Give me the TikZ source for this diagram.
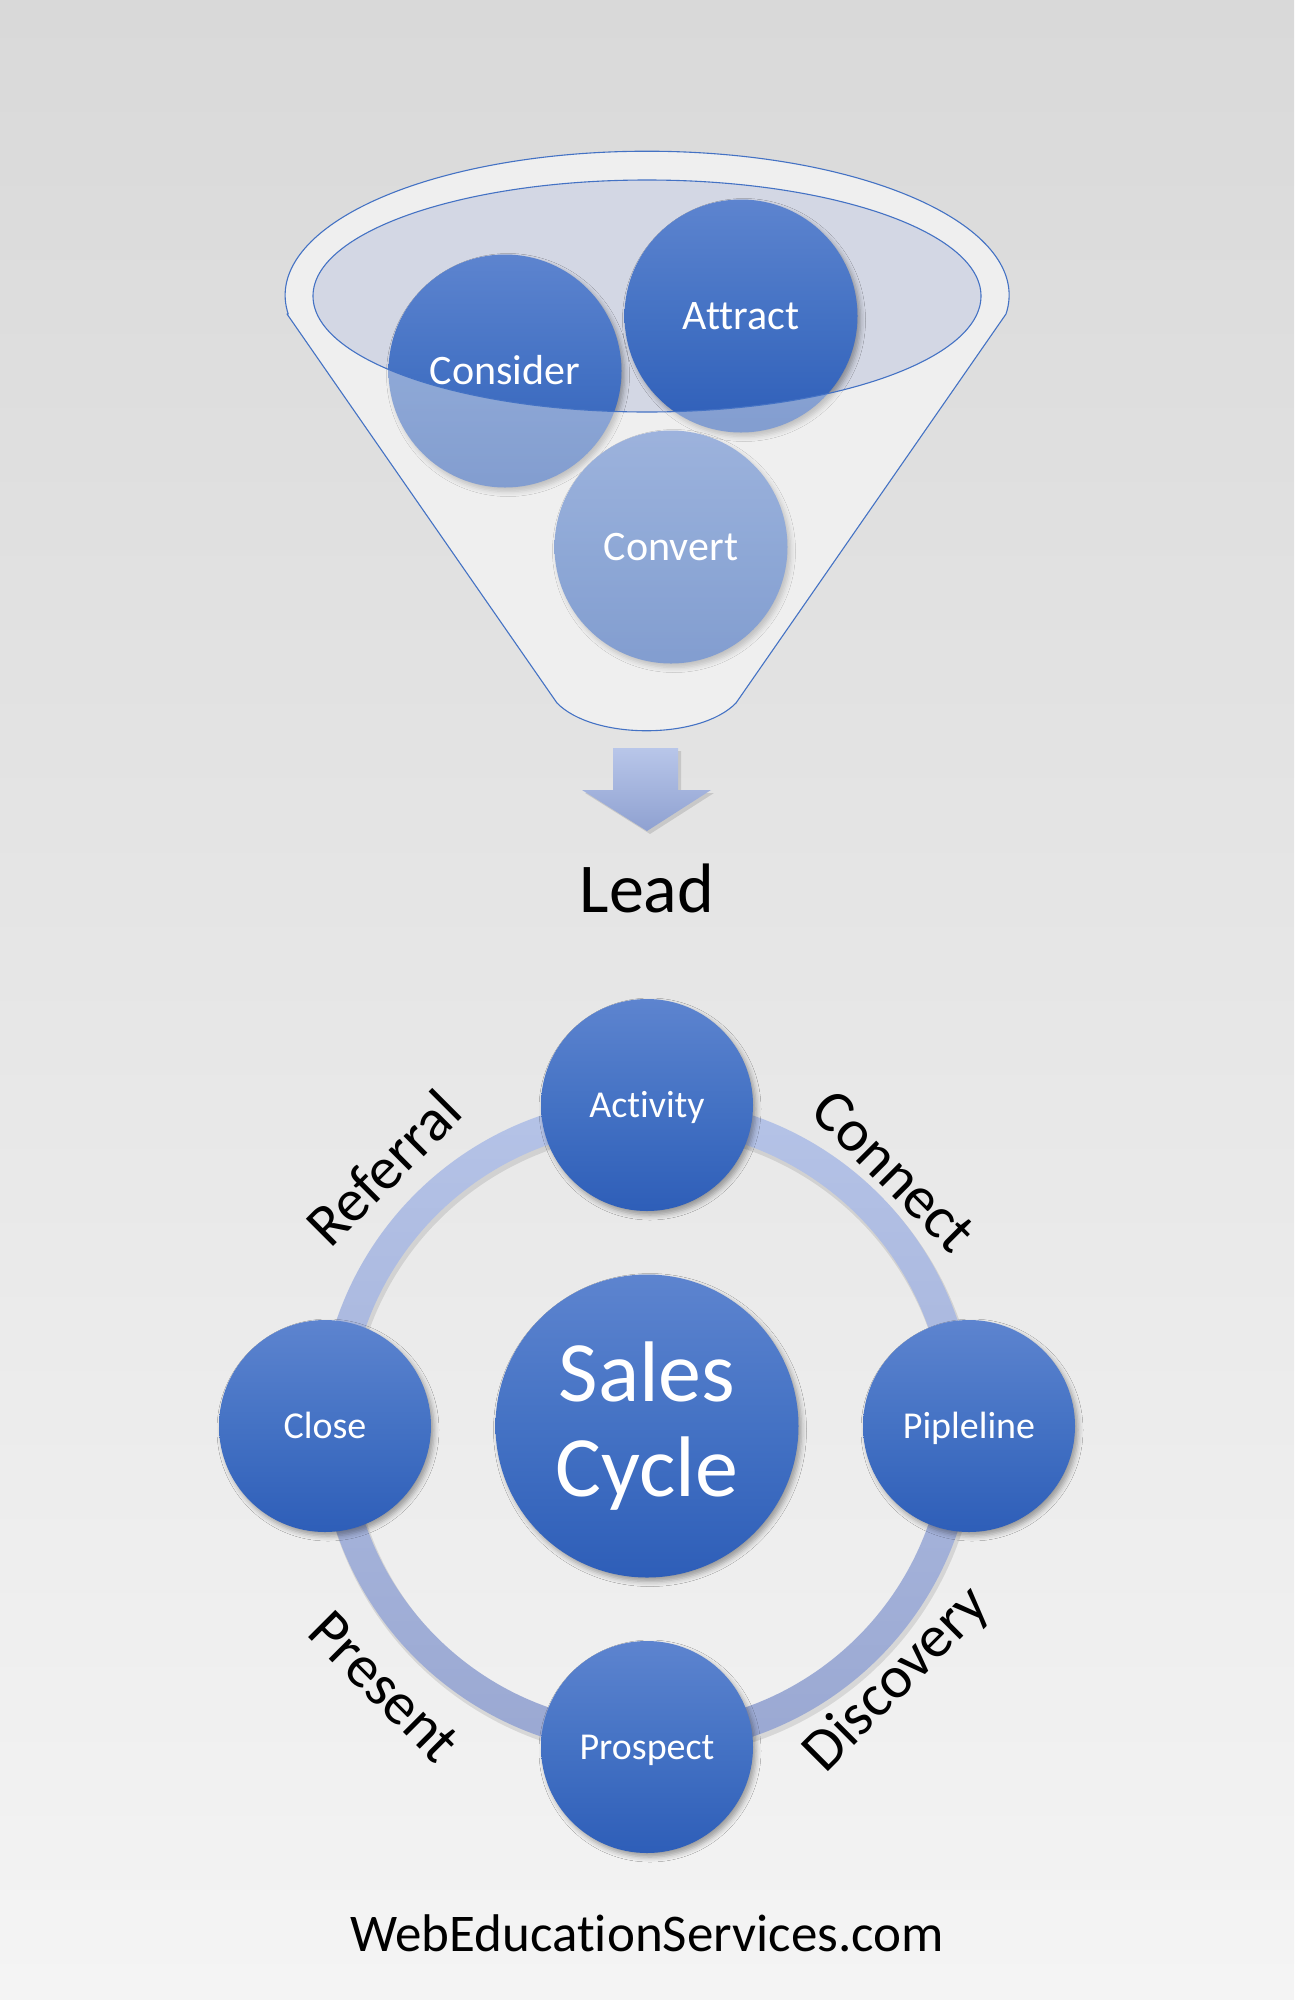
\documentclass[tikz,border=0pt]{standalone}
\usepackage{fontspec}
\setmainfont{Carlito}[Ligatures={NoCommon}]
\usetikzlibrary{shadows.blur}
\definecolor{bgtop}{HTML}{D9D9D9}
\definecolor{bgbot}{HTML}{F4F4F4}
\definecolor{rim}{HTML}{EFEFEF}
\definecolor{mouth}{HTML}{D3D7E4}
\definecolor{edge}{HTML}{4472C4}
\definecolor{btop}{HTML}{5D84CF}
\definecolor{bmid}{HTML}{4472C4}
\definecolor{bbot}{HTML}{2E5EB8}
\definecolor{ringtop}{HTML}{B5C3E7}
\definecolor{ringbot}{HTML}{9AA8D2}
\definecolor{arrtop}{HTML}{B8C6E9}
\definecolor{arrbot}{HTML}{8FA1D1}
\tikzset{
  ball/.style={circle, inner sep=0pt, top color=btop, bottom color=bbot, middle color=bmid,
     blur shadow={shadow xshift=3pt, shadow yshift=-4pt, shadow blur radius=5pt, shadow opacity=35}},
  funball/.style={ball, minimum size=233pt},
  cycball/.style={ball, minimum size=212pt, text=white, font=\fontsize{38}{44}\selectfont, text height=24pt, text depth=0pt},
  funtxt/.style={text=white, font=\fontsize{42}{48}\selectfont, inner sep=0pt, text height=26.5pt, text depth=0pt},
  arclbl/.style={font=\fontsize{60}{66}\selectfont, inner sep=0pt},
  outline/.style={draw=edge, line width=1.1pt},
}
\def\funnelpath{(287,314) -- (557,703) .. controls (593,740) and (700,740) .. (736,703) -- (1006,314) arc[start angle=7.5, end angle=-187.5, x radius=362, y radius=144] -- cycle}
\begin{document}
\begin{tikzpicture}[x=1pt,y=-1pt]
\useasboundingbox (0,0) rectangle (1294,2000);
\shade[top color=bgtop, bottom color=bgbot] (0,0) rectangle (1294,2000);

% funnel body and mouth
\fill[rim] \funnelpath;
\fill[mouth] (647,296) ellipse[x radius=334, y radius=116];

% funnel balls
\node[funball] (consider) at (505,371) {};
\node[funball] (attract) at (741,316) {};
\node[funball] (convert) at (671,547) {};

% translucent front of the funnel
\fill[rim, opacity=0.44, even odd rule] \funnelpath (647,296) ellipse[x radius=334, y radius=116];
\draw[outline] (647,296) ellipse[x radius=334, y radius=116];
\draw[outline, line join=round] \funnelpath;

\node[funtxt] at (consider) {Consider};
\node[funtxt] at (attract) {Attract};
\node[funtxt] at (convert) {Convert};

% arrow
\fill[black, opacity=0.12] (616,751) -- (681,751) -- (681,793) -- (714,793) -- (650,834) -- (585,793) -- (616,793) -- cycle;
\shade[top color=arrtop, bottom color=arrbot] (613,748) -- (678,748) -- (678,790) -- (711,790) -- (647,831) -- (582,790) -- (613,790) -- cycle;

\node[font=\fontsize{70}{80}\selectfont, anchor=base, inner sep=0pt] (lead) at (647,912) {Lead};

% ring
\fill[black, opacity=0.10, even odd rule] (649,1430) circle[radius=329] (649,1430) circle[radius=297];
\shade[top color=ringtop, bottom color=ringbot, even odd rule] (647,1426) circle[radius=328] (647,1426) circle[radius=298];

\node[ball, minimum size=303pt, text=white, align=center, font=\fontsize{86}{95}\selectfont] (sales) at (647,1426) {Sales\\Cycle};
\node[cycball] (activity) at (647,1105) {Activity};
\node[cycball] (close) at (325,1426) {Close};
\node[cycball] (pipe) at (969,1426) {Pipleline};
\node[cycball] (prospect) at (647,1747) {Prospect};

\node[arclbl, rotate=45] (referral) at (383,1168) {Referral};
\node[arclbl, rotate=-45] (connect) at (894,1171) {Connect};
\node[arclbl, rotate=-45] (present) at (384,1687) {Present};
\node[arclbl, rotate=45] (discovery) at (897,1680) {Discovery};

\node[font=\fontsize{53}{60}\selectfont, anchor=base, inner sep=0pt] (site) at (647,1951) {WebEducationServices.com};
\end{tikzpicture}
\end{document}
